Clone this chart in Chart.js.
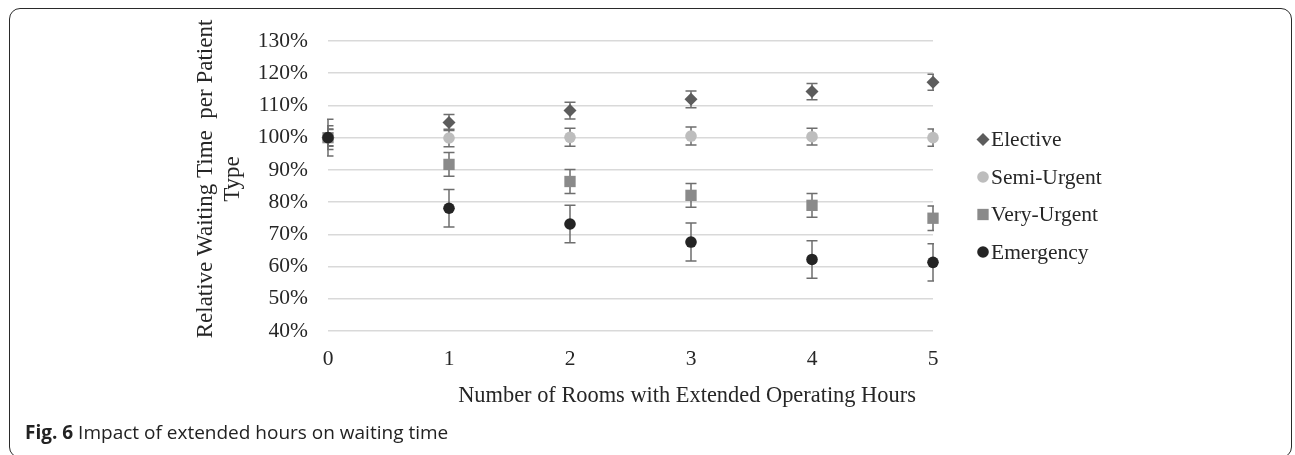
<!DOCTYPE html>
<html>
<head>
<meta charset="utf-8">
<script src="https://cdn.jsdelivr.net/npm/chart.js@4"></script>
<style>
  html, body { margin: 0; padding: 0; background: #fff; }
  #wrap { position: relative; width: 1295px; height: 455px; overflow: hidden; }
  #c { position: absolute; left: 0; top: 0; }
  #frame { position: absolute; left: 9px; top: 8px; width: 1283px; height: 450px; box-sizing: border-box;
           border: 1.6px solid #2a2a2a; border-radius: 11px; pointer-events: none; }
  #caption { position: absolute; left: 25px; top: 420px; font-family: "Open Sans", sans-serif; font-size: 19px;
             line-height: 24px; color: #222; white-space: nowrap; }
  #caption b { font-weight: 700; }
</style>
</head>
<body>
<div id="wrap">
  <canvas id="c" width="1295" height="455"></canvas>
  <div id="frame"></div>
  <div id="caption"><b>Fig. 6</b> Impact of extended hours on waiting time</div>
</div>
<script>
// ---- data ----
const rooms = [0, 1, 2, 3, 4, 5];
const seriesNames = ['Elective', 'Semi-Urgent', 'Very-Urgent', 'Emergency'];
const elective   = [100, 104.7, 108.4, 111.9, 114.3, 117.2];
const electiveErr= [2.5, 2.5, 2.6, 2.6, 2.5, 2.5];
const semiUrgent = [100, 99.9, 100.1, 100.5, 100.3, 100.0];
const semiErr    = [2.7, 2.7, 2.8, 2.8, 2.6, 2.7];
const veryUrgent = [100, 91.7, 86.4, 82.1, 79.0, 75.0];
const veryErr    = [3.7, 3.7, 3.7, 3.7, 3.7, 3.8];
const emergency  = [100, 78.1, 73.2, 67.6, 62.2, 61.3];
const emergErr   = [5.7, 5.8, 5.8, 5.9, 5.8, 5.8];
const yTicks = [40, 50, 60, 70, 80, 90, 100, 110, 120, 130];
const xTitle = 'Number of Rooms with Extended Operating Hours';
const yTitle = ['Relative Waiting Time  per Patient', 'Type'];

const SERIF = '"Liberation Serif", "Times New Roman", serif';
const TEXT = '#262626';

const values = [elective, semiUrgent, veryUrgent, emergency];
const errors = [electiveErr, semiErr, veryErr, emergErr];
const styles = [
  { color: '#5c5c5c', pointStyle: 'rectRot', radius: 6.5 },
  { color: '#bdbdbd', pointStyle: 'circle',  radius: 5.8 },
  { color: '#8a8a8a', pointStyle: 'rect',    radius: 8.0 },
  { color: '#242424', pointStyle: 'circle',  radius: 5.8 }
];

const datasets = seriesNames.map((name, i) => ({
  label: name,
  data: rooms.map((x, j) => ({ x: x, y: values[i][j] })),
  errors: errors[i],
  showLine: false,
  clip: false,
  pointStyle: styles[i].pointStyle,
  pointRadius: styles[i].radius,
  pointHoverRadius: styles[i].radius,
  pointBackgroundColor: styles[i].color,
  pointBorderColor: styles[i].color,
  pointBorderWidth: 0,
  order: seriesNames.length - 1 - i
}));

const errorBars = {
  id: 'errorBars',
  beforeDatasetsDraw(chart) {
    const ctx = chart.ctx, ca = chart.chartArea, ys = chart.scales.y;
    ctx.save();
    ctx.beginPath();
    ctx.rect(ca.left - 1, 0, ca.right - ca.left + 2, chart.height);
    ctx.clip();
    ctx.strokeStyle = '#6e6e6e';
    ctx.lineWidth = 1.5;
    chart.data.datasets.forEach((ds, i) => {
      const meta = chart.getDatasetMeta(i);
      meta.data.forEach((pt, j) => {
        const v = ds.data[j].y, e = ds.errors[j];
        const yt = ys.getPixelForValue(v + e), yb = ys.getPixelForValue(v - e);
        const x = pt.x, w = 5.5;
        ctx.beginPath();
        ctx.moveTo(x, yt); ctx.lineTo(x, yb);
        ctx.moveTo(x - w, yt); ctx.lineTo(x + w, yt);
        ctx.moveTo(x - w, yb); ctx.lineTo(x + w, yb);
        ctx.stroke();
      });
    });
    ctx.restore();
  }
};

function drawMarker(ctx, style, x, y, r, color) {
  ctx.fillStyle = color;
  ctx.beginPath();
  if (style === 'circle') {
    ctx.arc(x, y, r, 0, Math.PI * 2);
  } else if (style === 'rectRot') {
    ctx.moveTo(x - r, y); ctx.lineTo(x, y - r); ctx.lineTo(x + r, y); ctx.lineTo(x, y + r); ctx.closePath();
  } else {
    const s = r * Math.SQRT1_2;
    ctx.rect(x - s, y - s, 2 * s, 2 * s);
  }
  ctx.fill();
}

const decorations = {
  id: 'decorations',
  afterDraw(chart) {
    const ctx = chart.ctx;
    ctx.save();
    // legend
    ctx.font = '21.5px ' + SERIF;
    ctx.textBaseline = 'middle';
    ctx.textAlign = 'left';
    chart.data.datasets.forEach((ds, i) => {
      const y = 139.5 + i * 37.5;
      const st = styles[i];
      drawMarker(ctx, st.pointStyle, 983, y, st.radius, st.color);
      ctx.fillStyle = TEXT;
      ctx.fillText(ds.label, 991, y + 1);
    });
    // x axis title
    ctx.font = '22.4px ' + SERIF;
    ctx.textAlign = 'center';
    ctx.fillStyle = TEXT;
    ctx.fillText(xTitle, 687, 396);
    // y axis title (rotated, two lines)
    ctx.font = '23px ' + SERIF;
    ctx.translate(206, 179);
    ctx.rotate(-Math.PI / 2);
    ctx.fillText(yTitle[0], 0, 0);
    ctx.fillText(yTitle[1], 0, 27);
    ctx.restore();
  }
};

new Chart(document.getElementById('c'), {
  type: 'scatter',
  data: { datasets: datasets },
  options: {
    responsive: false,
    animation: false,
    devicePixelRatio: 1,
    layout: { padding: { top: 41, right: 362, bottom: 44, left: 0 } },
    plugins: { legend: { display: false }, tooltip: { enabled: false } },
    scales: {
      x: {
        type: 'linear', min: 0, max: 5,
        grid: { display: false, drawTicks: false },
        border: { display: false },
        ticks: { stepSize: 1, padding: 15, color: TEXT, font: { family: SERIF, size: 21.5 } },
        afterFit(scale) { scale.height = 80; }
      },
      y: {
        type: 'linear', min: 40, max: 130,
        afterBuildTicks(scale) { scale.ticks = yTicks.map(v => ({ value: v })); },
        grid: { color: '#d9d9d9', lineWidth: 1.5, drawTicks: false },
        border: { display: false },
        ticks: { padding: 20, color: TEXT, font: { family: SERIF, size: 21.5 },
                 callback: v => v + '%' },
        afterFit(scale) { scale.width = 328; }
      }
    }
  },
  plugins: [errorBars, decorations]
});
</script>
</body>
</html>
